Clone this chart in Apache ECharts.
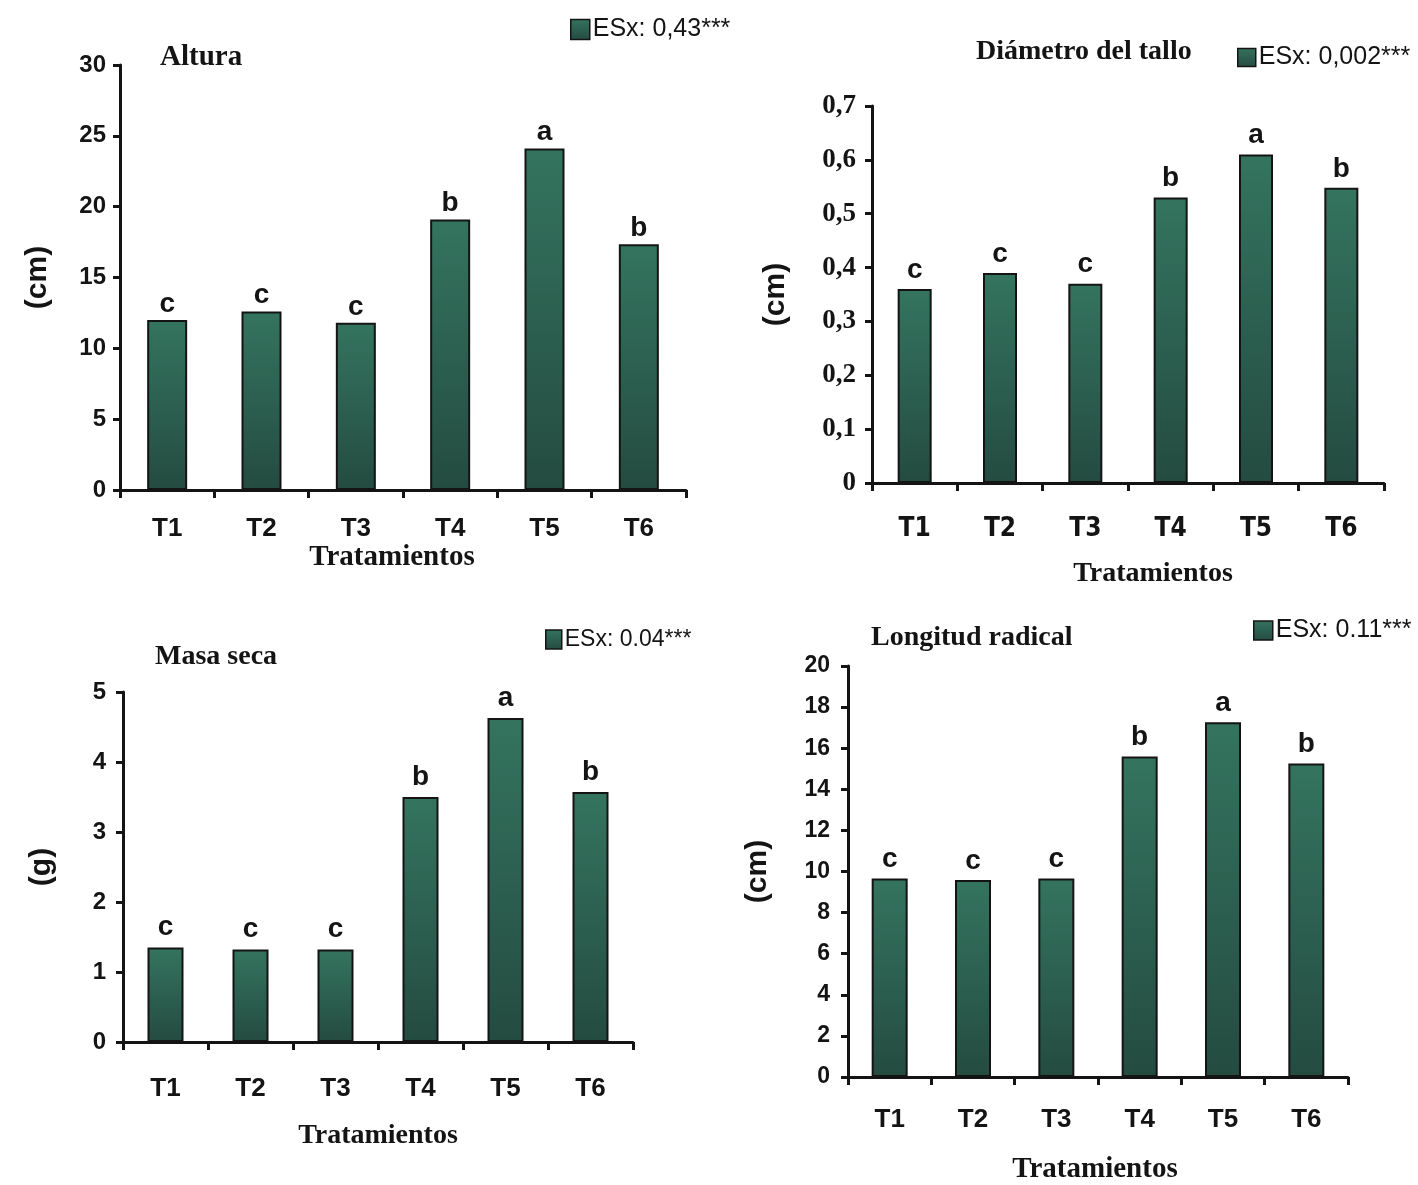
<!DOCTYPE html>
<html>
<head>
<meta charset="utf-8">
<script src="https://cdn.jsdelivr.net/npm/echarts@6/dist/echarts.min.js"></script>
<style>
html,body{margin:0;padding:0;background:#fff;}
#chart{width:1418px;height:1185px;}
</style>
</head>
<body>
<div id="chart"></div>
<script>
const categories = ['T1', 'T2', 'T3', 'T4', 'T5', 'T6'];
const letters = ['c', 'c', 'c', 'b', 'a', 'b'];

const alturaValues = [12.0, 12.6, 11.8, 19.1, 24.1, 17.35];
const diametroValues = [0.36, 0.39, 0.37, 0.53, 0.61, 0.548];
const masaValues = [1.35, 1.32, 1.32, 3.5, 4.63, 3.57];
const longitudValues = [9.66, 9.59, 9.66, 15.6, 17.26, 15.26];

const panelTitles = ['Altura', 'Diámetro del tallo', 'Masa seca', 'Longitud radical'];
const legendNames = ['ESx: 0,43***', 'ESx: 0,002***', 'ESx: 0.04***', 'ESx: 0.11***'];
const yNames = ['(cm)', '(cm)', '(g)', '(cm)'];
const xName = 'Tratamientos';
const yMax = [30, 0.7, 5, 20];
const yInterval = [5, 0.1, 1, 2];

const SANS = 'Liberation Sans, Arial, sans-serif';
const SERIF = 'Liberation Serif, Times New Roman, serif';
const INK = '#141414';

// pick a condensed bold sans if one is installed
function fontExists(name) {
  const c = document.createElement('canvas').getContext('2d');
  const s = 'T1T2T3T4T5T6 mmmWWW';
  c.font = 'bold 40px monospace';
  const a = c.measureText(s).width;
  c.font = 'bold 40px "' + name + '", monospace';
  const b = c.measureText(s).width;
  return Math.abs(a - b) > 0.5;
}
let NARROW = SANS, narrowSize = 27;
if (fontExists('Liberation Sans Narrow')) { NARROW = '"Liberation Sans Narrow", ' + SANS; narrowSize = 30; }
else if (fontExists('DejaVu Sans Condensed')) { NARROW = '"DejaVu Sans Condensed", ' + SANS; narrowSize = 26; }

const chart = echarts.init(document.getElementById('chart'), null, {renderer: 'canvas'});

const grids = [
  {left: 120, top: 65, width: 566, height: 425},
  {left: 872, top: 106, width: 512, height: 377},
  {left: 123, top: 692, width: 510, height: 350},
  {left: 848, top: 666, width: 500, height: 416}
];

const barFill = () => new echarts.graphic.LinearGradient(0, 0, 0, 1, [
  {offset: 0, color: '#34745f'},
  {offset: 1, color: '#244b40'}
]);

const seriesValues = [alturaValues, diametroValues, masaValues, longitudValues];
const barWidths = [40, 34, 36, 36];
const labelDist = [2, 5, 6, 5];
const xLabelCfg = [
  {margin: 26, font: SANS, size: 26},
  {margin: 33, font: NARROW, size: narrowSize},
  {margin: 34, font: SANS, size: 26},
  {margin: 30, font: SANS, size: 26}
];
const yLabelCfg = [
  {margin: 14, font: SANS, size: 24},
  {margin: 16, font: SERIF, size: 27},
  {margin: 17, font: SANS, size: 24},
  {margin: 18, font: SANS, size: 23}
];
const yNameGap = [67, 81, 66, 75];
const xNameCfg = [
  {gap: 52, size: 29, pad: [0, 22, 0, 0]},
  {gap: 77, size: 28, pad: [0, 0, 0, 50]},
  {gap: 80, size: 28, pad: [0, 0, 0, 0]},
  {gap: 78, size: 29, pad: [0, 6, 0, 0]}
];
const titlePos = [
  {left: 160, top: 43, size: 29},
  {left: 976, top: 38, size: 28},
  {left: 155, top: 643, size: 28},
  {left: 871, top: 624, size: 28}
];
const legendPos = [
  {left: 570, top: 17, w: 19, h: 20, size: 25},
  {left: 1237, top: 45, w: 18, h: 18, size: 25},
  {left: 545, top: 628, w: 16, h: 19, size: 23},
  {left: 1253, top: 618, w: 19, h: 19, size: 25}
];

const fmtY = (i) => (v) => {
  if (v === 0) return '0';
  if (i === 1) return v.toFixed(1).replace('.', ',');
  return String(v);
};

const option = {
  animation: false,
  backgroundColor: '#ffffff',
  grid: grids,
  title: panelTitles.map((t, i) => ({
    text: t,
    left: titlePos[i].left,
    top: titlePos[i].top,
    padding: 0,
    textStyle: {fontFamily: SERIF, fontWeight: 'bold', fontSize: titlePos[i].size, color: INK}
  })),
  legend: legendNames.map((n, i) => ({
    data: [n],
    left: legendPos[i].left,
    top: legendPos[i].top,
    padding: 0,
    itemWidth: legendPos[i].w,
    itemHeight: legendPos[i].h,
    icon: 'rect',
    selectedMode: false,
    itemStyle: {borderColor: INK, borderWidth: 1.5},
    textStyle: {fontFamily: SANS, fontSize: legendPos[i].size, color: INK, padding: [0, 0, 0, -2]}
  })),
  xAxis: grids.map((g, i) => ({
    type: 'category',
    gridIndex: i,
    data: categories,
    axisLine: {show: true, lineStyle: {color: INK, width: 3}},
    axisTick: {show: true, alignWithLabel: false, length: 8, lineStyle: {color: INK, width: 3}},
    axisLabel: {
      margin: xLabelCfg[i].margin, color: INK, fontFamily: xLabelCfg[i].font,
      fontWeight: 'bold', fontSize: xLabelCfg[i].size, interval: 0
    },
    splitLine: {show: false},
    name: xName,
    nameLocation: 'middle',
    nameGap: xNameCfg[i].gap,
    nameTextStyle: {
      fontFamily: SERIF, fontWeight: 'bold', fontSize: xNameCfg[i].size,
      color: INK, padding: xNameCfg[i].pad
    }
  })),
  yAxis: grids.map((g, i) => ({
    type: 'value',
    gridIndex: i,
    min: 0,
    max: yMax[i],
    interval: yInterval[i],
    axisLine: {show: true, lineStyle: {color: INK, width: 3}},
    axisTick: {show: true, length: 7, lineStyle: {color: INK, width: 3}},
    axisLabel: {
      margin: yLabelCfg[i].margin, color: INK, fontFamily: yLabelCfg[i].font,
      fontWeight: 'bold', fontSize: yLabelCfg[i].size, formatter: fmtY(i)
    },
    splitLine: {show: false},
    name: yNames[i],
    nameLocation: 'middle',
    nameRotate: 90,
    nameGap: yNameGap[i],
    nameTextStyle: {fontFamily: SANS, fontWeight: 'bold', fontSize: 30, color: INK}
  })),
  series: seriesValues.map((vals, i) => ({
    type: 'bar',
    name: legendNames[i],
    xAxisIndex: i,
    yAxisIndex: i,
    data: vals,
    barWidth: barWidths[i],
    itemStyle: {color: barFill(), borderColor: INK, borderWidth: 2},
    label: {
      show: true,
      position: 'top',
      distance: labelDist[i],
      formatter: (p) => letters[p.dataIndex],
      fontFamily: SANS,
      fontWeight: 'bold',
      fontSize: 28,
      color: INK
    }
  }))
};

chart.setOption(option);
</script>
</body>
</html>
